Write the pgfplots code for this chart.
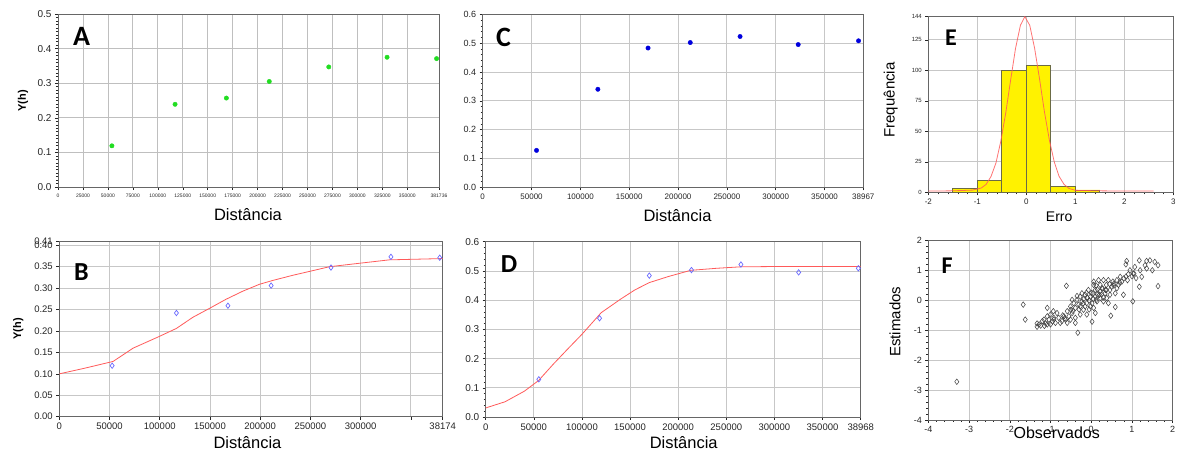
\documentclass[border=0pt]{standalone}
\usepackage{pgfplots}
\pgfplotsset{compat=1.18}
\usepackage{fontspec}
\setmainfont{Liberation Sans}
\newfontfamily\carl{Carlito}
\newcommand{\fs}[1]{\fontsize{#1}{#1}\selectfont}
\definecolor{ptgreen}{HTML}{22DD22}
\definecolor{ptblue}{HTML}{0000DD}
\definecolor{lblue}{HTML}{6A6AFF}
\definecolor{fitred}{HTML}{FF5A5A}
\definecolor{barline}{HTML}{6B6B45}
\pgfplotsset{
  panel/.style={
    scale only axis, anchor=south west, clip mode=individual,
    scaled x ticks=false, scaled y ticks=false,
    axis line style={black!60, line width=0.6pt},
    grid=major, major grid style={black!22, line width=0.8pt},
    tick pos=left, tick align=outside,
    major tick style={black!85, line width=0.5pt},
    minor tick style={black!85, line width=0.4pt},
    major tick length=3pt, minor tick length=2pt,
    /pgf/number format/assume math mode=true,
    tick label style={text=black!85},
  }
}
\begin{document}
\begin{tikzpicture}[x=1pt,y=1pt]
\useasboundingbox (0pt,0pt) rectangle (1177pt,457pt);

% ---------- A ----------
\begin{axis}[panel, at={(58pt,270pt)}, width=381pt, height=173pt,
  xmin=0, xmax=381736, ymin=0, ymax=0.5,
  xtick={0,25000,50000,75000,100000,125000,150000,175000,200000,225000,250000,275000,300000,325000,350000,381736},
  xticklabels={0,25000,50000,75000,100000,125000,150000,175000,200000,225000,250000,275000,300000,325000,350000,381736},
  ytick={0,0.1,0.2,0.3,0.4,0.5}, yticklabels={0.0,0.1,0.2,0.3,0.4,0.5},
  minor x tick num=4, minor y tick num=9,
  x tick label style={font=\fs{5}}, y tick label style={font=\fs{10}},
  major grid style={black!25, line width=0.8pt}]
\addplot[only marks, mark=*, mark size=2.2pt, color=ptgreen] coordinates {
(54000,0.119) (117300,0.239) (168700,0.257) (211700,0.305) (271300,0.347) (329700,0.375) (379300,0.371)};
\end{axis}

% ---------- B ----------
\begin{axis}[panel, at={(59.3pt,40.3pt)}, width=383.4pt, height=175.7pt,
  xmin=0, xmax=381740, ymin=0, ymax=0.41,
  xtick={0,50000,100000,150000,200000,250000,300000,350000,381740},
  xticklabels={0,50000,100000,150000,200000,250000,300000,{},38174},
  ytick={0,0.05,0.10,0.15,0.20,0.25,0.30,0.35,0.40,0.41},
  yticklabels={0.00,0.05,0.10,0.15,0.20,0.25,0.30,0.35,0.40,0.41},
  minor x tick num=1, minor y tick num=4,
  x tick label style={font=\fs{9.5}}, y tick label style={font=\fs{9.5}}]
\addplot[fitred, line width=0.8pt] coordinates {
(0,0.100) (25000,0.113) (53600,0.129) (73500,0.160) (99300,0.187) (116600,0.206) (133000,0.232) (149700,0.253) (166000,0.274) (182800,0.293) (199300,0.309) (212600,0.318) (232500,0.330) (249000,0.339) (269000,0.350) (298700,0.358) (328500,0.366) (381740,0.369)};
\addplot[only marks, mark=diamond, mark size=2.7pt, color=lblue, line width=0.7pt] coordinates {
(52600,0.119) (116600,0.242) (167900,0.259) (210900,0.306) (270500,0.348) (330200,0.373) (378800,0.371)};
\end{axis}

% ---------- C ----------
\begin{axis}[panel, at={(482.7pt,269.7pt)}, width=380.6pt, height=173pt,
  xmin=0, xmax=389670, ymin=0, ymax=0.6,
  xtick={0,50000,100000,150000,200000,250000,300000,350000,389670},
  xticklabels={0,50000,100000,150000,200000,250000,300000,350000,38967},
  ytick={0,0.1,0.2,0.3,0.4,0.5,0.6}, yticklabels={0.0,0.1,0.2,0.3,0.4,0.5,0.6},
  minor x tick num=1, minor y tick num=4,
  x tick label style={font=\fs{8}}, y tick label style={font=\fs{9}}]
\addplot[only marks, mark=*, mark size=2.2pt, color=ptblue] coordinates {
(55100,0.128) (117900,0.340) (169300,0.483) (212500,0.502) (263500,0.523) (323000,0.495) (384800,0.508)};
\end{axis}

% ---------- D ----------
\begin{axis}[panel, at={(485.7pt,40pt)}, width=375pt, height=175.3pt,
  xmin=0, xmax=389680, ymin=0, ymax=0.6,
  xtick={0,50000,100000,150000,200000,250000,300000,350000,389680},
  xticklabels={0,50000,100000,150000,200000,250000,300000,350000,38968},
  ytick={0,0.1,0.2,0.3,0.4,0.5,0.6}, yticklabels={0.0,0.1,0.2,0.3,0.4,0.5,0.6},
  minor x tick num=1, minor y tick num=4,
  x tick label style={font=\fs{9.5}}, y tick label style={font=\fs{10}}]
\addplot[fitred, line width=0.8pt] coordinates {
(0,0.031) (20000,0.052) (40000,0.088) (55000,0.125) (70000,0.180) (85000,0.232) (100000,0.283) (120000,0.357) (140000,0.403) (155000,0.435) (170000,0.460) (190000,0.481) (213000,0.502) (240000,0.509) (265000,0.514) (300000,0.515) (389680,0.515)};
\addplot[only marks, mark=diamond, mark size=2.7pt, color=lblue, line width=0.7pt] coordinates {
(55200,0.129) (118300,0.338) (170000,0.484) (213800,0.503) (265200,0.522) (325200,0.495) (387200,0.509)};
\end{axis}

% ---------- E ----------
\begin{axis}[panel, at={(928.3pt,264.7pt)}, width=245pt, height=175.6pt,
  xmin=-2, xmax=3, ymin=0, ymax=144,
  xtick={-2,-1,0,1,2,3}, ytick={0,25,50,75,100,125,144},
  minor x tick num=4, minor y tick num=4,
  x tick label style={font=\fs{8}}, y tick label style={font=\fs{6}}]
\addplot[ybar interval, fill=yellow, draw=barline, line width=0.7pt] coordinates {
(-1.5,3) (-1,10) (-0.5,100) (0,104) (0.5,5) (1,2) (1.5,2)};
\addplot[fitred, line width=0.8pt, opacity=0.85] coordinates {
(-2,1) (-1.5,1.2) (-1.1,1.8) (-0.92,3.5) (-0.82,6.5) (-0.72,13) (-0.62,24) (-0.52,42) (-0.42,65) (-0.32,92) (-0.22,118) (-0.12,137) (-0.03,144) (0.07,137) (0.17,118) (0.27,93) (0.37,66) (0.47,43) (0.57,25) (0.67,13) (0.77,6.5) (0.87,3.2) (1.0,1.6) (1.5,1.2) (2.0,1) (2.6,1)};
\end{axis}

% ---------- F ----------
\begin{axis}[panel, at={(928.3pt,37pt)}, width=244.4pt, height=179.3pt,
  xmin=-4, xmax=2, ymin=-4, ymax=2,
  xtick={-4,-3,-2,-1,0,1,2}, ytick={-4,-3,-2,-1,0,1,2},
  minor x tick num=4, minor y tick num=4,
  tick label style={font=\fs{9}}]
\addplot[only marks, mark=diamond, mark size=2.8pt, color=black!75, line width=0.5pt] coordinates {
(-3.30,-2.72) (-1.67,-0.14) (-1.62,-0.64)
(-1.33,-0.77) (-1.33,-0.88) (-1.24,-0.84) (-1.12,-0.77) (-1.20,-0.69) (-1.04,-0.64) (-1.00,-0.80) (-0.88,-0.75)
(-1.08,-0.25) (-1.00,-0.47) (-0.93,-0.36) (-0.92,-0.58) (-0.80,-0.58) (-0.76,-0.75) (-0.72,-0.69) (-0.84,-0.42)
(-0.59,-0.75) (-0.39,-0.75) (-0.33,-1.08) (-0.61,0.49) (-0.59,-0.36) (-0.55,-0.53) (-0.47,-0.42) (-0.39,-0.58)
(-0.27,-0.47) (-0.51,-0.20) (-0.43,-0.09) (-0.39,-0.25) (-0.35,0.02) (-0.27,0.13) (-0.27,-0.20) (-0.23,-0.03)
(-0.15,0.19) (-0.15,-0.20) (-0.11,-0.09) (-0.07,0.35) (-0.02,0.13) (-0.02,-0.20) (0.02,-0.09) (0.02,-0.71)
(0.06,0.52) (0.10,0.35) (0.10,0.13) (0.10,-0.42) (0.14,-0.03) (0.18,0.68) (0.22,0.52) (0.22,0.30) (0.22,0.08)
(0.30,0.68) (0.30,-0.03) (0.34,0.24) (0.37,0.52) (0.42,0.68) (0.42,-0.09) (0.46,0.19) (0.48,-0.51) (0.50,0.46)
(0.53,0.63) (0.59,-0.22) (0.63,0.68) (0.63,0.41) (0.71,0.79) (0.79,0.19) (0.80,0.74) (0.85,1.21) (0.87,1.32)
(0.91,0.88) (0.95,1.01) (1.00,0.81) (1.02,-0.03) (1.18,1.34) (1.18,0.46) (1.20,1.01) (1.24,0.79) (1.32,1.18)
(1.36,1.32) (1.44,1.34) (1.50,1.01) (1.56,1.29) (1.64,1.18) (1.64,0.48)
(-0.20,-0.10) (-0.05,0.00) (0.05,0.05) (0.15,0.20) (0.28,0.40) (0.35,0.35) (0.45,0.55) (0.55,0.50) (0.00,0.25)
(-0.10,0.10) (0.25,0.20) (-0.30,-0.30) (-0.45,-0.35) (-0.65,-0.60) (-0.70,-0.50) (-0.95,-0.70) (-1.15,-0.85)
(0.70,0.60) (0.85,0.80) (1.05,0.90) (1.10,0.75) (0.12,0.50) (-0.05,-0.30) (0.30,0.10)
(-0.47,0.02) (-0.35,0.15) (-0.23,0.24) (-0.12,0.26) (-0.09,0.08) (0.04,0.24) (0.15,0.37) (0.26,0.41)
(0.37,0.35) (0.56,0.57) (0.67,0.52) (0.75,0.63) (0.89,0.68) (1.03,0.90) (0.59,0.24) (0.20,0.19)
(0.12,0.02) (-0.19,0.04) (-0.31,-0.14) (-0.19,-0.31) (-0.50,-0.31) (-0.67,-0.53) (-0.92,-0.64) (-1.08,-0.53)
(-1.16,-0.64) (-1.28,-0.80) (-1.08,-0.80) (-0.63,-0.64) (-0.51,-0.64) (-0.11,-0.47) (0.06,-0.25) (0.38,0.08)
(0.46,0.35) (0.06,0.63) (1.36,1.07) (1.07,1.12)};
\end{axis}

% ---------- labels ----------
\node[font=\fs{16.5}] at (248pt,242pt) {Distância};
\node[font=\fs{16.5}] at (247.5pt,14pt) {Distância};
\node[font=\fs{16.5}] at (677.5pt,241pt) {Distância};
\node[font=\fs{16.5}] at (683.7pt,14.7pt) {Distância};
\node[font=\fs{11}\bfseries, rotate=90] at (23pt,356.2pt) {Y(h)};
\node[font=\fs{11}\bfseries, rotate=90] at (18.3pt,128pt) {Y(h)};
\node[font=\fs{15}, rotate=90] at (890.8pt,357pt) {Frequência};
\node[font=\fs{14}] at (1059.2pt,240.3pt) {Erro};
\node[font=\fs{15}, rotate=90] at (895pt,135.3pt) {Estimados};
\node[font=\fs{16}] at (1056.7pt,24pt) {Observados};

\node[font=\carl\bfseries\fs{28}] at (81.5pt,421pt) {A};
\node[font=\carl\bfseries\fs{26}] at (81.5pt,185pt) {B};
\node[font=\carl\bfseries\fs{28}] at (503.5pt,420pt) {C};
\node[font=\carl\bfseries\fs{26}] at (509pt,193pt) {D};
\node[font=\carl\bfseries\fs{24}] at (951pt,419.5pt) {E};
\node[font=\carl\bfseries\fs{24}] at (947pt,191.5pt) {F};
\end{tikzpicture}
\end{document}
